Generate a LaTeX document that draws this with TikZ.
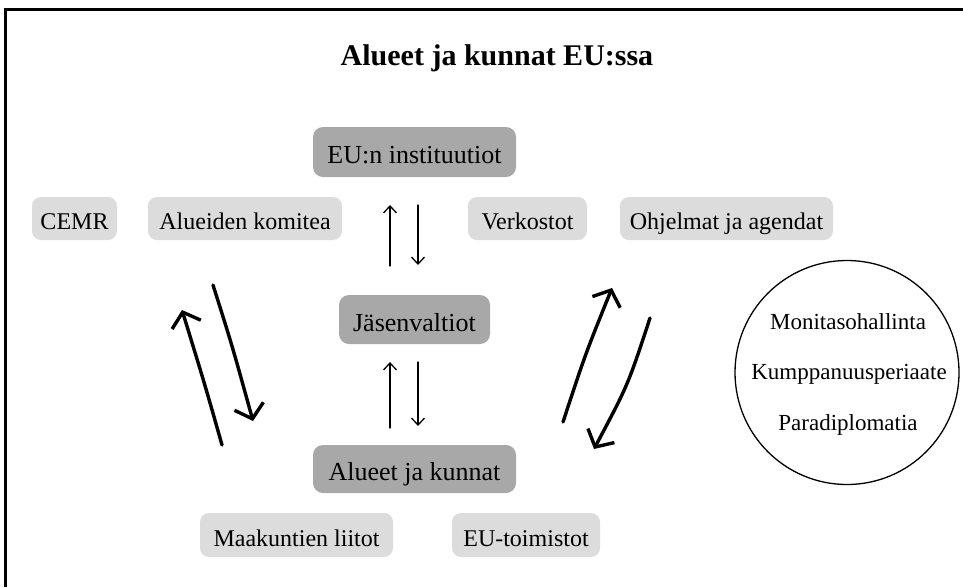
\documentclass[tikz,border=0pt]{standalone}
\usepackage{fontspec}
\setmainfont{Liberation Serif}
\usetikzlibrary{arrows.meta}
\definecolor{darkbox}{HTML}{A8A8A8}
\definecolor{lightbox}{HTML}{DCDCDC}
\tikzset{
  mainbox/.style={fill=darkbox, rounded corners=10pt, inner sep=0pt, text height=25pt, text depth=2pt, font=\fontsize{26}{30}\selectfont},
  subbox/.style={fill=lightbox, rounded corners=9pt, inner sep=0pt, text height=24pt, text depth=2pt, font=\fontsize{24}{28}\selectfont},
  thin arrow/.style={line width=1.3pt, line cap=round, -{Straight Barb[length=7pt,width=13pt,line width=1.3pt]}},
  hand arrow/.style={line width=3.4pt, line cap=round, -{Straight Barb[length=13pt,width=30pt,line width=3.4pt]}},
  circtext/.style={anchor=base, font=\fontsize{23}{27}\selectfont}
}
\begin{document}
\begin{tikzpicture}[x=1pt,y=-1pt]
\useasboundingbox (0,0) rectangle (963,587);
\fill[white] (0,0) rectangle (963,587);
\draw[line width=3pt] (5,587) -- (5,9) -- (963,9);

\node[anchor=base, font=\bfseries\fontsize{30}{34}\selectfont] (title) at (497,65) {Alueet ja kunnat EU:ssa};

\node[mainbox, minimum width=203pt, minimum height=50pt] (eu) at (414.5,152) {EU:n instituutiot};
\node[mainbox, minimum width=151pt, minimum height=49pt] (jv) at (414.5,319.5) {Jäsenvaltiot};
\node[mainbox, minimum width=203pt, minimum height=48pt] (ak) at (414.5,469) {Alueet ja kunnat};

\node[subbox, minimum width=85pt, minimum height=43pt] (cemr) at (74.5,218.5) {CEMR};
\node[subbox, minimum width=194pt, minimum height=43pt] (komitea) at (245,218.5) {Alueiden komitea};
\node[subbox, minimum width=119pt, minimum height=43pt] (verk) at (527.5,218.5) {Verkostot};
\node[subbox, minimum width=213pt, minimum height=43pt] (ohj) at (726.5,218.5) {Ohjelmat ja agendat};
\node[subbox, minimum width=193pt, minimum height=44pt] (maak) at (296.5,535) {Maakuntien liitot};
\node[subbox, minimum width=148pt, minimum height=44pt] (eutoim) at (526,535) {EU-toimistot};

\node[draw, circle, line width=1.3pt, minimum size=224pt, inner sep=0pt] (circ) at (847,372.5) {};
\node[circtext] (mon) at (848,329) {Monitasohallinta};
\node[circtext] (kump) at (849,379) {Kumppanuusperiaate};
\node[circtext] (para) at (848,430) {Paradiplomatia};

% thin arrows between eu and jv
\coordinate (a1s) at (390,266);
\coordinate (a1e) at (390,205);
\coordinate (a2s) at (418,205);
\coordinate (a2e) at (418,265);
\draw[thin arrow] (a1s) -- (a1e);
\draw[thin arrow] (a2s) -- (a2e);
% thin arrows between jv and ak
\coordinate (b1s) at (390,428);
\coordinate (b1e) at (390,362);
\coordinate (b2s) at (418,362);
\coordinate (b2e) at (418,426);
\draw[thin arrow] (b1s) -- (b1e);
\draw[thin arrow] (b2s) -- (b2e);

% hand-drawn arrows left
\coordinate (l1s) at (222,445);
\coordinate (l1e) at (182,310);
\coordinate (l2s) at (213,285);
\coordinate (l2e) at (253,421);
\draw[hand arrow] (l1s) .. controls (205,385) .. (l1e);
\draw[hand arrow] (l2s) .. controls (232,345) .. (l2e);
% hand-drawn arrows right
\coordinate (r1s) at (563,422);
\coordinate (r1e) at (612,288);
\coordinate (r2s) at (650,318);
\coordinate (r2e) at (594,449);
\draw[hand arrow] (r1s) .. controls (585,355) .. (r1e);
\draw[hand arrow] (r2s) .. controls (628,385) .. (r2e);
\end{tikzpicture}
\end{document}
